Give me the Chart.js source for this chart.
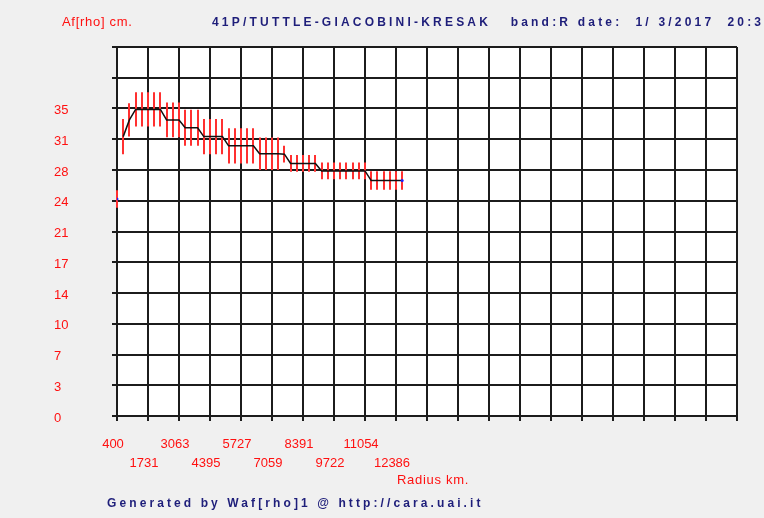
<!DOCTYPE html>
<html>
<head>
<meta charset="utf-8">
<script src="https://cdn.jsdelivr.net/npm/chart.js@4/dist/chart.umd.min.js"></script>
<style>
  body { margin: 0; background: #f0f0f0; }
  #wrap { position: relative; width: 764px; height: 518px; overflow: hidden; background: #f0f0f0; }
  #wrap canvas { position: absolute; left: 0; top: 0; }
  .txt { position: absolute; white-space: pre; font-family: 'Liberation Sans', Arial, sans-serif; line-height: 16px; }
  .red { color: #ff1010; font-size: 13px; letter-spacing: 0.7px; }
  .navy { color: #1e1e7a; font-size: 12px; font-weight: bold; }
</style>
</head>
<body>
<div id="wrap">
  <canvas id="afrhoChart" width="764" height="518"></canvas>
  <div class="txt red" style="left:62px; top:14px;">Af[rho] cm.</div>
  <div class="txt navy" style="left:212px; top:14px; letter-spacing:3.2px;">41P/TUTTLE-GIACOBINI-KRESAK   band:R date:  1/ 3/2017  20:36</div>
  <div class="txt red" style="left:397px; top:472px;">Radius km.</div>
  <div class="txt navy" style="left:107px; top:495px; letter-spacing:3.1px;">Generated by Waf[rho]1 @ http://cara.uai.it</div>
</div>
<script>
// Af[rho] profile data (radius in km, Af[rho] in cm)
const radiusKm = [666, 933, 1199, 1465, 1732, 1998, 2265, 2531, 2797, 3064,
    3330, 3596, 3863, 4129, 4395, 4662, 4928, 5194, 5461, 5727,
    5994, 6260, 6526, 6793, 7059, 7325, 7592, 7858, 8124, 8391,
    8657, 8924, 9190, 9456, 9723, 9989, 10255, 10522, 10788, 11054,
    11321, 11587, 11853, 12120, 12386, 12653];
const afrho = [31.8, 33.7, 34.9, 34.9, 34.9, 34.9, 34.9, 33.7, 33.7, 33.7,
    32.8, 32.8, 32.8, 31.8, 31.8, 31.8, 31.8, 30.75, 30.75, 30.75,
    30.75, 30.75, 29.85, 29.85, 29.85, 29.85, 29.8, 28.75, 28.75, 28.75,
    28.75, 28.75, 27.9, 27.9, 27.9, 27.9, 27.9, 27.9, 27.9, 27.9,
    26.8, 26.8, 26.8, 26.8, 26.8, 26.8];
const afrhoErr = [2.0, 1.9, 1.95, 1.95, 1.95, 1.95, 1.95, 1.97, 1.97, 1.97,
    2.05, 2.05, 2.05, 2.0, 2.0, 2.0, 2.0, 2.0, 2.0, 2.0,
    2.0, 2.0, 1.86, 1.86, 1.86, 1.86, 0.95, 0.95, 0.95, 0.95,
    0.95, 0.95, 0.95, 0.95, 0.95, 0.95, 0.95, 0.95, 0.95, 0.95,
    1.05, 1.05, 1.05, 1.05, 1.05, 1.05];

// first (innermost) point, drawn on its own
const firstRadius = [400];
const firstAfrho = [24.7];
const firstErr = [1.0];

// tick labels
const xTickLabels = ['400', '1731', '3063', '4395', '5727', '7059', '8391', '9722', '11054', '12386'];
const yTickLabels = ['0', '3', '7', '10', '14', '17', '21', '24', '28', '31', '35', '', ''];

// Error bar plugin
const errorBars = {
    id: 'errorBars',
    beforeDatasetsDraw(chart) {
        const ctx = chart.ctx;
        const xs = chart.scales.x, ys = chart.scales.y;
        ctx.save();
        ctx.strokeStyle = '#ff3030';
        ctx.lineWidth = 2;
        chart.data.datasets.forEach(ds => {
            if (!ds.errors) return;
            ds.data.forEach((p, i) => {
                const px = Math.round(xs.getPixelForValue(p.x));
                ctx.beginPath();
                ctx.moveTo(px, ys.getPixelForValue(p.y - ds.errors[i]));
                ctx.lineTo(px, ys.getPixelForValue(p.y + ds.errors[i]));
                ctx.stroke();
            });
        });
        ctx.restore();
    }
};

const gridColor = '#1c1c1c';

new Chart(document.getElementById('afrhoChart'), {
    type: 'scatter',
    data: {
        datasets: [{
            data: radiusKm.map((r, i) => ({ x: r, y: afrho[i] })),
            errors: afrhoErr,
            showLine: true,
            borderColor: '#111',
            borderWidth: 1.5,
            pointRadius: radiusKm.map((r, i) => i === radiusKm.length - 1 ? 1.5 : 0),
            pointBackgroundColor: '#2020ff',
            pointBorderWidth: 0
        }, {
            data: firstRadius.map((r, i) => ({ x: r, y: firstAfrho[i] })),
            errors: firstErr,
            showLine: false,
            pointRadius: 1.5,
            pointBackgroundColor: '#2020ff',
            pointBorderWidth: 0
        }]
    },
    options: {
        responsive: false,
        animation: false,
        devicePixelRatio: 1,
        layout: { padding: { left: 54, right: 27, top: 47, bottom: 0 } },
        plugins: {
            legend: { display: false },
            tooltip: { enabled: false }
        },
        scales: {
            x: {
                type: 'linear',
                min: 400,
                max: 27036,
                afterFit: s => { s.height = 102; },
                ticks: {
                    stepSize: 1331.8,
                    autoSkip: false,
                    maxRotation: 0,
                    padding: 14,
                    labelOffset: -4,
                    color: '#ff1010',
                    font: { family: "'Liberation Sans', Arial, sans-serif", size: 13, lineHeight: '19px' },
                    callback: (v, i) => {
                        const lab = xTickLabels[i];
                        if (lab === undefined) return '';
                        return i % 2 === 0 ? [lab] : ['', lab];
                    }
                },
                grid: { color: gridColor, lineWidth: 2, tickLength: 5 },
                border: { color: gridColor, width: 2 }
            },
            y: {
                min: 0,
                max: 42,
                afterFit: s => { s.width = 63; },
                ticks: {
                    stepSize: 3.5,
                    autoSkip: false,
                    crossAlign: 'far',
                    labelOffset: 2,
                    color: '#ff1010',
                    font: { family: "'Liberation Sans', Arial, sans-serif", size: 13 },
                    callback: (v, i) => yTickLabels[i] !== undefined ? yTickLabels[i] : ''
                },
                grid: { color: gridColor, lineWidth: 2, tickLength: 5 },
                border: { color: gridColor, width: 2 }
            }
        }
    },
    plugins: [errorBars, {
        id: 'plotBg',
        beforeDraw(chart) {
            const a = chart.chartArea;
            chart.ctx.save();
            chart.ctx.fillStyle = '#ffffff';
            chart.ctx.fillRect(a.left, a.top, a.right - a.left, a.bottom - a.top);
            chart.ctx.restore();
        }
    }]
});
</script>
</body>
</html>
